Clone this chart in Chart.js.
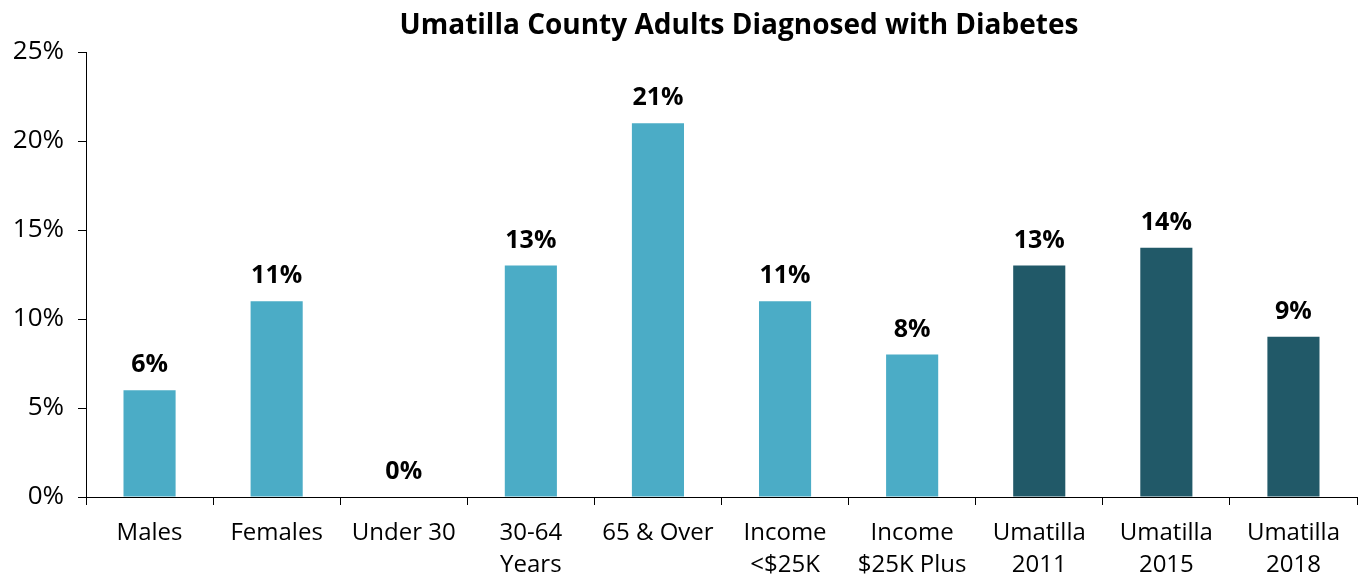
<!DOCTYPE html>
<html>
<head>
<meta charset="utf-8">
<script src="https://cdn.jsdelivr.net/npm/chart.js@4"></script>
<style>
    html, body { margin: 0; padding: 0; background: #fff; }
    #wrap { width: 1362px; height: 576px; }
</style>
</head>
<body>
<div id="wrap"><canvas id="diabetesChart"></canvas></div>
<script>
const categories = [
    ["Males"], ["Females"], ["Under 30"], ["30-64", "Years"], ["65 & Over"],
    ["Income", "<$25K"], ["Income", "$25K Plus"], ["Umatilla", "2011"], ["Umatilla", "2015"], ["Umatilla", "2018"]
];
const percentValues = [6, 11, 0, 13, 21, 11, 8, 13, 14, 9];
const barColors = ["#4BACC6", "#4BACC6", "#4BACC6", "#4BACC6", "#4BACC6", "#4BACC6", "#4BACC6", "#215968", "#215968", "#215968"];
const yTicks = [0, 5, 10, 15, 20, 25];
const chartTitle = "Umatilla County Adults Diagnosed with Diabetes";

const fontName = "'Open Sans', sans-serif";
const ctx = document.getElementById("diabetesChart");

// value labels above bars + title
const labelPlugin = {
    id: "labelPlugin",
    afterDatasetsDraw(chart) {
        const c = chart.ctx;
        const meta = chart.getDatasetMeta(0);
        c.save();
        c.font = "bold 25px " + fontName;
        c.fillStyle = "#000";
        c.textAlign = "center";
        c.textBaseline = "middle";
        meta.data.forEach((bar, i) => {
            c.fillText(percentValues[i] + "%", bar.x, bar.y - 25);
        });
        c.font = "bold 28px " + fontName;
        c.fillText(chartTitle, 739, 26);
        c.restore();
    },
};

new Chart(ctx, {
    type: "bar",
    data: {
        labels: categories,
        datasets: [
            {
                data: percentValues,
                backgroundColor: barColors,
                barPercentage: 0.41,
                categoryPercentage: 1,
            },
        ],
    },
    options: {
        responsive: true,
        maintainAspectRatio: false,
        animation: false,
        layout: { padding: { top: 52, right: 5, left: 0, bottom: 0 } },
        plugins: {
            legend: { display: false },
            tooltip: { enabled: false },
        },
        scales: {
            x: {
                grid: { drawOnChartArea: false, drawTicks: true, tickLength: 8, color: "#000", offset: true },
                border: { color: "#000", width: 1 },
                ticks: { color: "#000", font: { family: fontName, size: 24, lineHeight: 1.3 }, padding: 13, maxRotation: 0, autoSkip: false },
                afterFit(scale) { scale.height = 79; },
            },
            y: {
                min: 0,
                max: 25,
                grid: { drawOnChartArea: false, drawTicks: true, tickLength: 8, color: "#000" },
                border: { color: "#000", width: 1 },
                ticks: {
                    stepSize: 5,
                    color: "#000",
                    font: { family: fontName, size: 26 },
                    padding: 14,
                    callback: (v) => (yTicks.includes(v) ? v + "%" : ""),
                },
                afterFit(scale) { scale.width = 86; },
            },
        },
    },
    plugins: [labelPlugin],
});
</script>
</body>
</html>
